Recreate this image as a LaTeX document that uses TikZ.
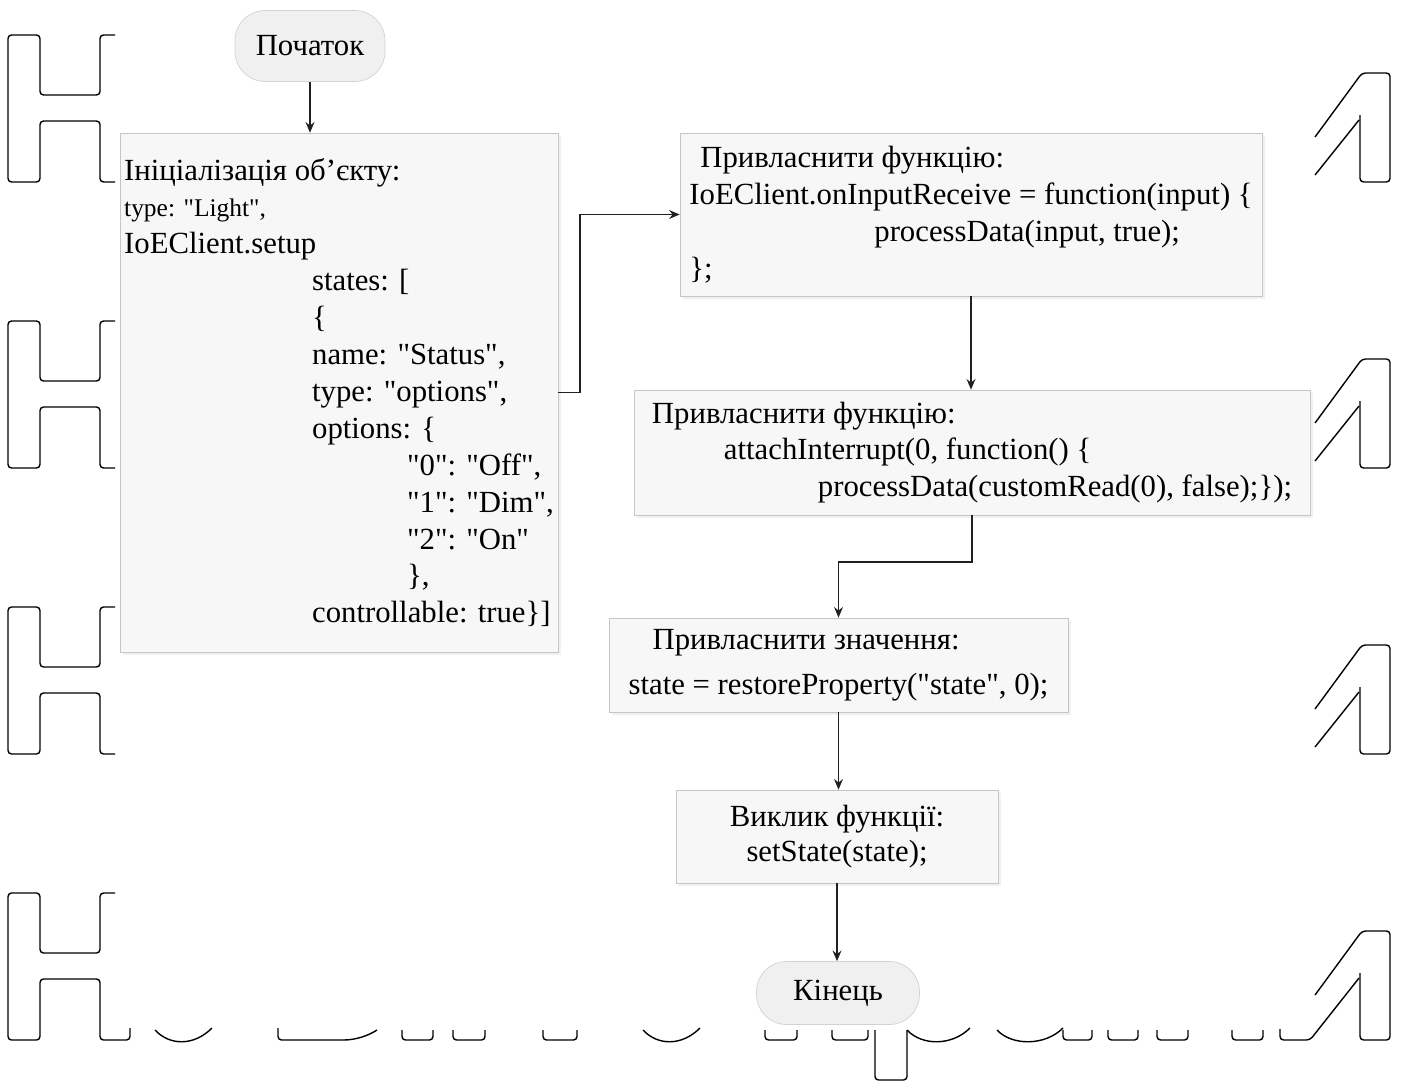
\documentclass[tikz,border=0pt]{standalone}
\usepackage{fontspec}
\setmainfont{Liberation Serif}
\usetikzlibrary{arrows.meta, shadows}
\newcommand{\dq}{\textquotedbl}
\tikzset{
  blok/.style   = {rectangle, draw=gray!45, fill=gray!6, align=left, inner sep=0pt,
                   font=\fontsize{17.5}{21}\selectfont,
                   drop shadow={shadow xshift=1.5pt, shadow yshift=-1.5pt, opacity=0.12}},
  termin/.style = {rectangle, rounded corners=0.6cm, draw=gray!35, fill=gray!12,
                   font=\fontsize{17.5}{21}\selectfont},
  potik/.style  = {draw=gray!25!black, line width=1.1pt, -{Stealth[length=6pt, width=5pt]}},
  wm/.style     = {draw=black, line width=0.8pt, rounded corners=2pt}
}

\begin{document}
\begin{tikzpicture}[x=0.02cm, y=-0.02cm]
  \useasboundingbox (0,0) rectangle (1408,1088);

  % водяний знак
  \foreach \t in {35,321,607}
    \draw[wm] (115,\t) -- (100,\t) -- (100,\t+60) -- (40,\t+60) -- (40,\t) -- (8,\t)
      -- (8,\t+147) -- (40,\t+147) -- (40,\t+86) -- (100,\t+86) -- (100,\t+147) -- (115,\t+147);
  \draw[wm] (115,893) -- (100,893) -- (100,953) -- (40,953) -- (40,893) -- (8,893)
      -- (8,1040) -- (40,1040) -- (40,979) -- (100,979) -- (100,1040) -- (130,1040) -- (130,1028);
  \foreach \t in {73,359,645}{
    \draw[wm] (1315,\t+64) -- (1362,\t) -- (1390,\t) -- (1390,\t+109) -- (1360,\t+109) -- (1360,\t+42);
    \draw[wm] (1359,\t+47) -- (1315,\t+102);
  }
  \draw[wm] (1315,995) -- (1362,931) -- (1390,931) -- (1390,1040) -- (1360,1040) -- (1360,973);
  \draw[wm] (1359,978) -- (1310,1040) -- (1280,1040) -- (1280,1029);
  \foreach \a/\b in {402/433, 453/485, 543/577, 765/797, 832/868, 1063/1092, 1108/1138, 1157/1188, 1232/1263}
    \draw[wm] (\a,1030) -- (\a,1040) -- (\b,1040) -- (\b,1030);
  \foreach \a/\b in {155/212, 643/700, 997/1063, 907/970}
    \draw[wm] (\a,1030) .. controls (\a+15,1046) and (\b-18,1046) .. (\b,1028);
  \draw[wm] (278,1028) -- (278,1040) -- (340,1040) .. controls (355,1040) and (368,1036) .. (377,1030);
  \draw[wm] (875,1030) -- (875,1080) -- (907,1080) -- (907,1030);

  % блоки
  \node[termin, minimum width=3cm, minimum height=1.42cm] (start) at (310,46) {Початок};

  \node[blok, minimum width=8.76cm, minimum height=10.38cm] (init) at (339,392.5) {%
    Ініціалізація об’єкту:\\
    {\fontsize{14.5}{21}\selectfont type: \dq Light\dq,}\\
    IoEClient.setup\\
    \hspace*{3.76cm}states: [\\
    \hspace*{3.76cm}\{\\
    \hspace*{3.76cm}name: \dq Status\dq,\\
    \hspace*{3.76cm}type: \dq options\dq,\\
    \hspace*{3.76cm}options: \{\\
    \hspace*{5.66cm}\dq 0\dq: \dq Off\dq,\\
    \hspace*{5.66cm}\dq 1\dq: \dq Dim\dq,\\
    \hspace*{5.66cm}\dq 2\dq: \dq On\dq\\
    \hspace*{5.66cm}\},\\
    \hspace*{3.76cm}controllable: true\}]};

  \node[blok, minimum width=11.64cm, minimum height=3.26cm] (assign) at (971,214.5) {%
    \hspace*{0.22cm}Привласнити функцію:\\
    IoEClient.onInputReceive = function(input) \{\\
    \hspace*{3.7cm}processData(input, true);\\
    \};};

  \node[blok, minimum width=13.52cm, minimum height=2.5cm] (attach) at (972,452.5) {%
    Привласнити функцію:\\
    \hspace*{1.44cm}attachInterrupt(0, function() \{\\
    \hspace*{3.32cm}processData(customRead(0), false);\});};

  \node[blok, minimum width=9.18cm, minimum height=1.88cm,
        font=\fontsize{17.5}{25.5}\selectfont] (restore) at (838.5,665) {%
    \hspace*{0.48cm}Привласнити значення:\\
    state = restoreProperty(\dq state\dq, 0);};

  \node[blok, align=center, minimum width=6.44cm, minimum height=1.86cm,
        font=\fontsize{17.5}{20}\selectfont] (call) at (837,836.5) {%
    Виклик функції:\\ setState(state);};

  \node[termin, minimum width=3.26cm, minimum height=1.26cm] (kinets) at (838,993) {Кінець};

  % переходи
  \draw[potik] (start.south) -- (start.south |- init.north);
  \draw[potik] (init.east) -- ++(22,0) |- (assign);
  \draw[potik] (assign.south) -- (assign.south |- attach.north);
  \draw[potik] (attach.south) -- ++(0,47) -| (restore.north);
  \draw[potik] (restore.south) -- (restore.south |- call.north);
  \draw[potik] (call.south) -- (call.south |- kinets.north);

\end{tikzpicture}
\end{document}
